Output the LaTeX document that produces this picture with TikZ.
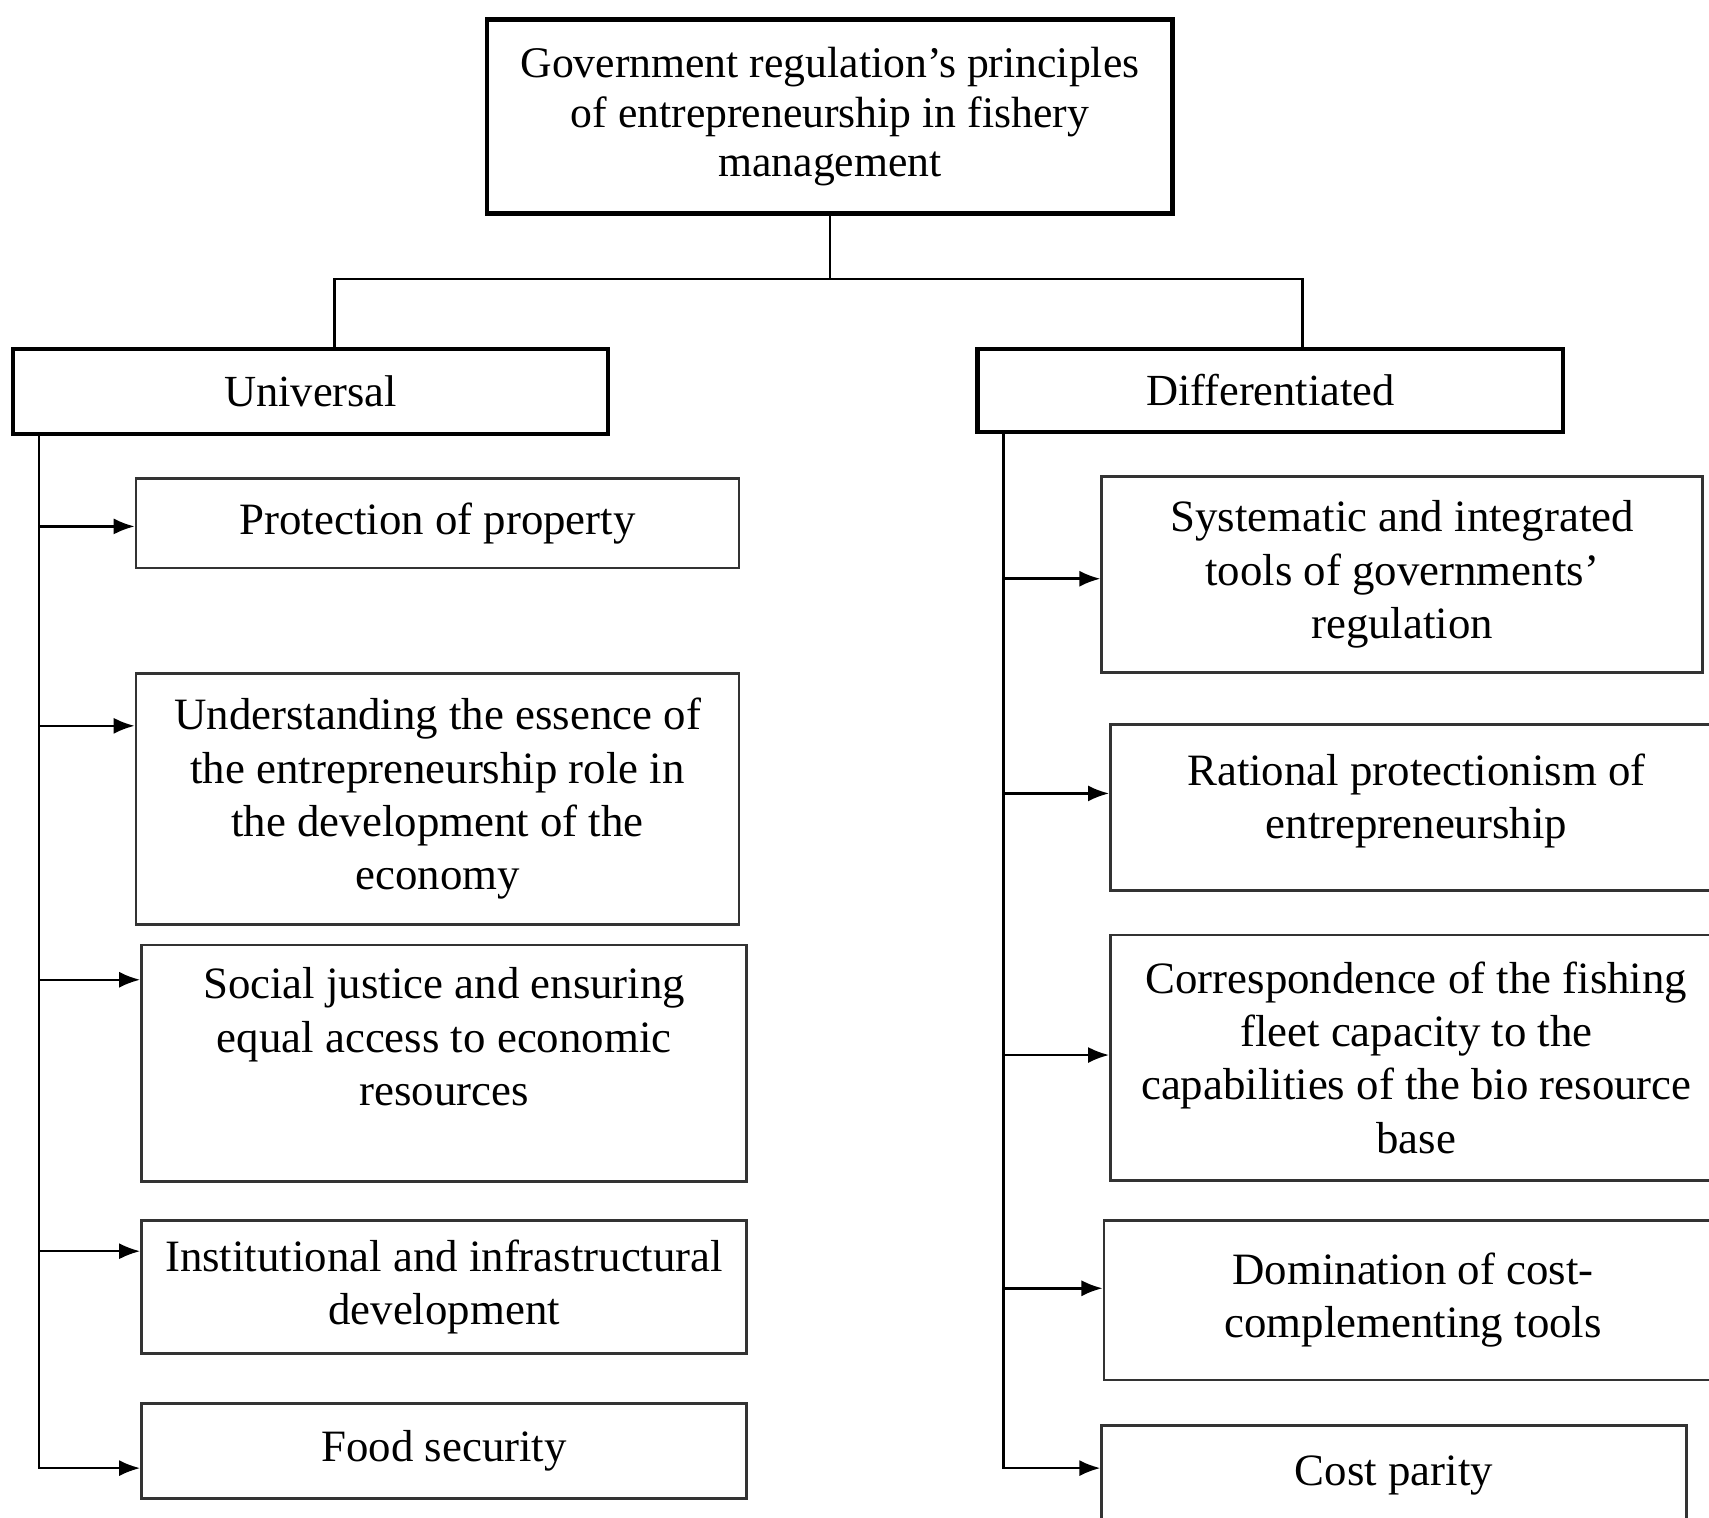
\documentclass[tikz,border=0pt]{standalone}
\usepackage{fontspec}
\setmainfont{Liberation Serif}
\usetikzlibrary{arrows.meta,positioning,calc}

\begin{document}
\begin{tikzpicture}[
  x=0.01cm, y=-0.01cm,
  topbox/.style={rectangle, draw, line width=1.3pt, align=center, inner sep=2pt, font=\fontsize{11.4}{12.8}\selectfont},
  groupbox/.style={rectangle, draw, line width=1.1pt, align=center, inner sep=2pt, font=\fontsize{11.6}{14}\selectfont},
  itembox/.style={rectangle, draw=black!80, line width=0.7pt, align=center, inner sep=2pt, font=\fontsize{11.7}{13.9}\selectfont},
  link/.style={line width=0.6pt},
  arr/.style={-{Latex[length=5.5pt, width=4.2pt]}, line width=0.65pt}
]
\useasboundingbox (0,0) rectangle (1568,1392);
\clip (0,0) rectangle (1568,1392);

% Top: principles
\node[topbox, minimum width=6.29cm, minimum height=1.78cm] (top) at (761.5,107) {Government regulation’s principles\\of entrepreneurship in fishery\\management};

% Two groups
\node[groupbox, minimum width=5.46cm, minimum height=0.78cm] (univ) at (285,359) {Universal};
\node[groupbox, minimum width=5.37cm, minimum height=0.76cm] (diff) at (1165.5,358) {Differentiated};
\coordinate (bus) at (760,256);
\draw[link] (top.south) -- (top.south |- bus);
\draw[link] ($(univ.north)+(22,0)$) |- (bus) -| ($(diff.north)+(29.5,0)$);

% Universal principles
\node[itembox, minimum width=5.53cm, minimum height=0.82cm] (prop) at (401.5,480) {Protection of property};
\node[itembox, minimum width=5.53cm, minimum height=2.30cm] (under) at (401.5,733) {Understanding the essence of\\the entrepreneurship role in\\the development of the\\economy};
\node[itembox, minimum width=5.55cm, minimum height=2.17cm] (social) at (407.5,975.5) {Social justice and ensuring\\equal access to economic\\resources\\ \mbox{}};
\node[itembox, minimum width=5.55cm, minimum height=1.22cm] (inst) at (407.5,1181) {Institutional and infrastructural\\development};
\node[itembox, minimum width=5.55cm, minimum height=0.87cm] (food) at (407.5,1331.5) {Food security};

% Differentiated principles
\node[itembox, minimum width=5.51cm, minimum height=1.80cm] (syst) at (1286.5,527) {Systematic and integrated\\tools of governments’\\regulation};
\node[itembox, minimum width=5.61cm, minimum height=1.52cm] (ration) at (1299.5,741) {Rational protectionism of\\entrepreneurship\\[-8pt] \mbox{}};
\node[itembox, minimum width=5.61cm, minimum height=2.25cm] (corr) at (1299.5,970.5) {Correspondence of the fishing\\fleet capacity to the\\capabilities of the bio resource\\base};
\node[itembox, minimum width=5.67cm, minimum height=1.46cm] (dom) at (1296.5,1193) {Domination of cost-\\complementing tools};
\node[itembox, minimum width=5.36cm, minimum height=0.92cm] (cost) at (1279,1354) {Cost parity};

% Trunks and arrows
\coordinate (trunkL) at ($(univ.south west)+(26,0)$);
\coordinate (trunkR) at ($(diff.south west)+(26,0)$);
\coordinate (prop-in) at ([yshift=-0.03cm]prop.west);
\coordinate (under-in) at ([yshift=0.67cm]under.west);
\coordinate (social-in) at ([yshift=0.765cm]social.west);
\coordinate (inst-in) at ([yshift=0.33cm]inst.west);
\coordinate (food-in) at ([yshift=-0.155cm]food.west);
\coordinate (syst-in) at ([yshift=-0.04cm]syst.west);
\coordinate (ration-in) at ([yshift=0.13cm]ration.west);
\coordinate (corr-in) at ([yshift=0.025cm]corr.west);
\coordinate (dom-in) at ([yshift=0.11cm]dom.west);
\coordinate (cost-in) at ([yshift=0.07cm]cost.west);

\draw[arr] (trunkL) |- (food-in);
\draw[arr] (trunkL |- prop-in) -- (prop-in);
\draw[arr] (trunkL |- under-in) -- (under-in);
\draw[arr] (trunkL |- social-in) -- (social-in);
\draw[arr] (trunkL |- inst-in) -- (inst-in);

\draw[arr] (trunkR) |- (cost-in);
\draw[arr] (trunkR |- syst-in) -- (syst-in);
\draw[arr] (trunkR |- ration-in) -- (ration-in);
\draw[arr] (trunkR |- corr-in) -- (corr-in);
\draw[arr] (trunkR |- dom-in) -- (dom-in);

\end{tikzpicture}
\end{document}
